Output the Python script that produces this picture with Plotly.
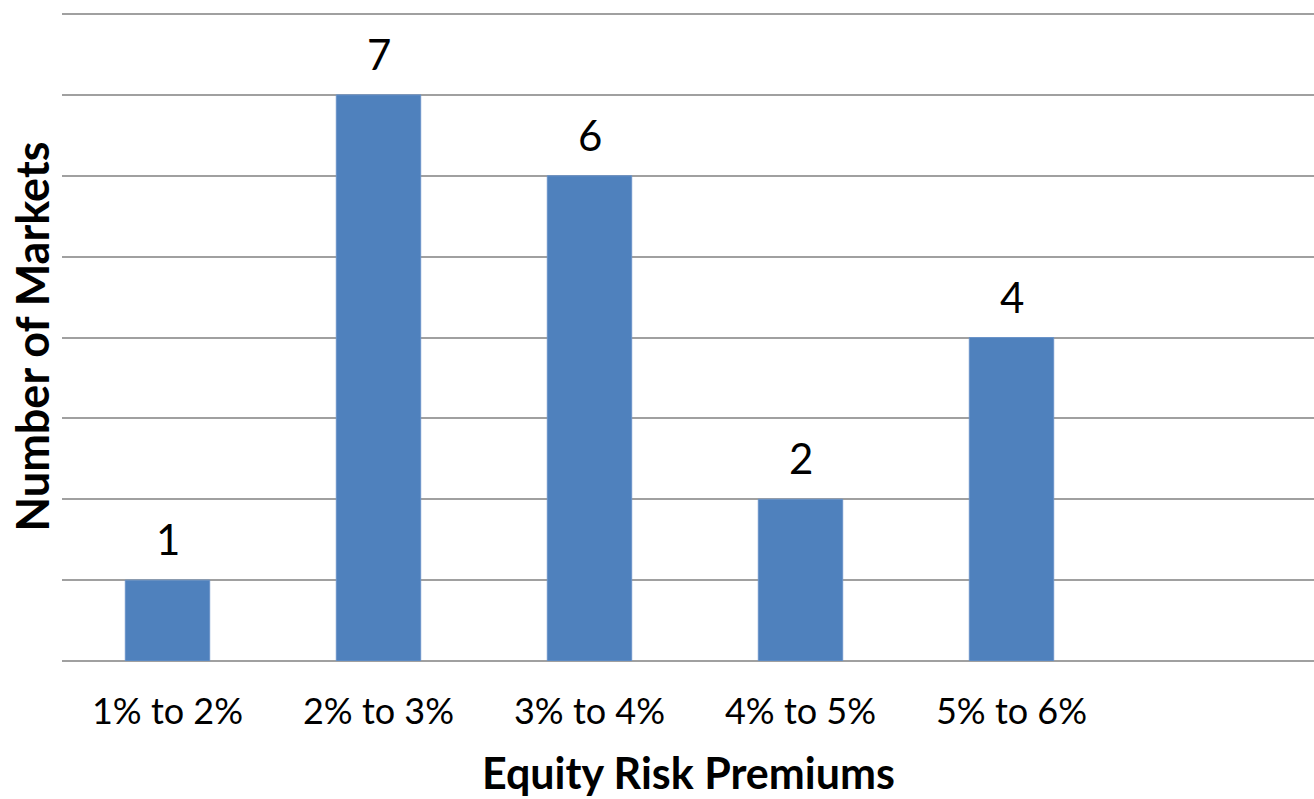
import plotly.graph_objects as go

categories = ["1% to 2%", "2% to 3%", "3% to 4%", "4% to 5%", "5% to 6%", ""]
counts = [1, 7, 6, 2, 4, None]
y_max = 8

bar_color = "#4F81BD"
font_family = "Lato, Carlito, Calibri, sans-serif"

fig = go.Figure()
fig.add_trace(go.Bar(
    x=categories,
    y=counts,
    marker=dict(color=bar_color, line=dict(color="#6A93C8", width=1)),
    width=0.4,
    hoverinfo="x+y",
))

for c, v in zip(categories, counts):
    if v is None:
        continue
    fig.add_annotation(
        x=c, y=v, text=str(v), showarrow=False,
        xref="x", yref="y", yanchor="bottom", yshift=14,
        font=dict(family=font_family, size=42, color="#000000"),
    )

fig.add_annotation(
    text="<b>Equity Risk Premiums</b>", xref="paper", yref="paper",
    x=0.5, y=0, yanchor="middle", yshift=-111, showarrow=False,
    font=dict(family=font_family, size=43, color="#000000"),
)
fig.add_annotation(
    text="<b>Number of Markets</b>", xref="paper", yref="paper",
    x=0, y=0.5, xanchor="center", xshift=-31, textangle=-90, showarrow=False,
    font=dict(family=font_family, size=45, color="#000000"),
)

fig.update_layout(
    width=1314, height=799,
    margin=dict(l=62, r=0, t=12, b=138),
    paper_bgcolor="white", plot_bgcolor="white",
    showlegend=False,
    xaxis=dict(
        type="category",
        range=[-0.5, -0.5 + (1314 - 62) / 211],
        showgrid=False, zeroline=False, showline=False,
        ticks="", tickfont=dict(family=font_family, size=36, color="#000000"),
        ticklabelstandoff=26,
    ),
    yaxis=dict(
        range=[0, y_max + 0.025], tick0=0, dtick=1,
        showgrid=True, gridcolor="#A0A0A0", gridwidth=2,
        zeroline=True, zerolinecolor="#A0A0A0", zerolinewidth=2,
        showticklabels=False, ticks="", showline=False,
    ),
)

fig.write_html("out.html")
